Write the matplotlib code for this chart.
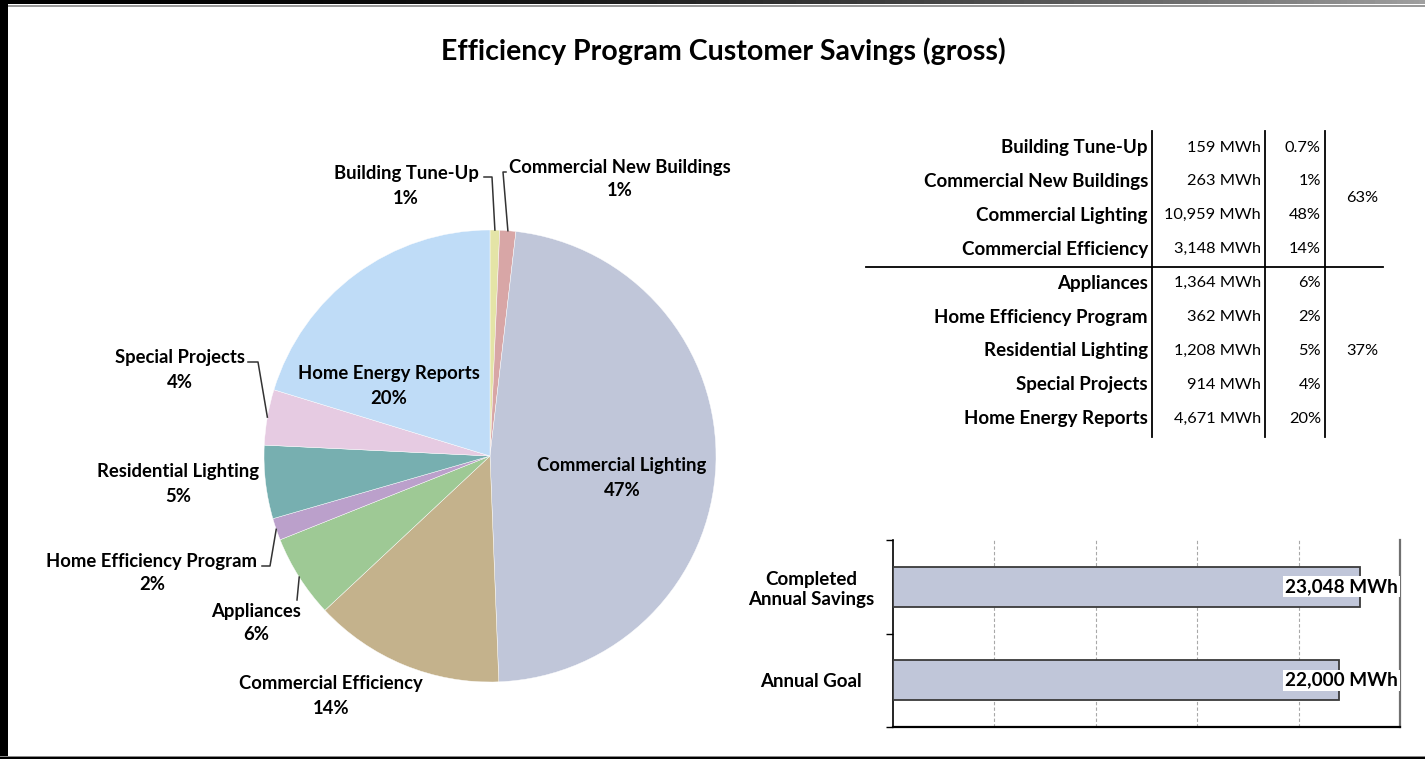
import numpy as np
import matplotlib.pyplot as plt

plt.rcParams['font.family'] = ['Lato', 'DejaVu Sans']

W, H = 1425, 759

# data
programs = ['Building Tune-Up', 'Commercial New Buildings', 'Commercial Lighting',
            'Commercial Efficiency', 'Appliances', 'Home Efficiency Program',
            'Residential Lighting', 'Special Projects', 'Home Energy Reports']
savings_mwh = [159, 263, 10959, 3148, 1364, 362, 1208, 914, 4671]
pie_pct = ['1%', '1%', '47%', '14%', '6%', '2%', '5%', '4%', '20%']
table_pct = ['0.7%', '1%', '48%', '14%', '6%', '2%', '5%', '4%', '20%']
group_pct = ['63%', '37%']
group_rows = [4, 5]
colors = ['#e4e4a6', '#d8a6a6', '#c0c6d9', '#c4b28c', '#9ec995',
          '#bba0cb', '#77afb0', '#e6cbe2', '#bfdcf7']

bar_cats = ['Annual Goal', 'Completed\nAnnual Savings']
bar_vals = [22000, 23048]

fig = plt.figure(figsize=(W / 100, H / 100), dpi=100)
fig.patch.set_facecolor('white')

# overlay in pixel coordinates (frame, title, table)
ov = fig.add_axes([0, 0, 1, 1])
ov.axis('off')
ov.patch.set_alpha(0)

grad = np.linspace(0, 1, 256)[None, :] ** 2
ov.imshow(grad, cmap='gray', vmin=0, vmax=1.6, extent=(0, W, 4.5, 0), aspect='auto')
ov.add_patch(plt.Rectangle((0, 4.5), W, 2.5, color='#9a9a9a', lw=0))
ov.add_patch(plt.Rectangle((0, 0), 8, H, color='black', lw=0))
ov.add_patch(plt.Rectangle((0, 755.5), W, 1.5, color='#8a8a8a', lw=0))
ov.add_patch(plt.Rectangle((0, 757), W, 2, color='black', lw=0))
ov.set_xlim(0, W)
ov.set_ylim(H, 0)

ov.text(723, 51, 'Efficiency Program Customer Savings (gross)', ha='center', va='center',
        fontsize=20.5, fontweight='bold')

# table
row_y0, row_h = 147.5, 33.9
for i, (name, v, p) in enumerate(zip(programs, savings_mwh, table_pct)):
    y = row_y0 + i * row_h
    ov.text(1148, y, name, ha='right', va='center', fontsize=13.5, fontweight='bold')
    ov.text(1261, y, f'{v:,} MWh', ha='right', va='center', fontsize=11.8)
    ov.text(1321, y, p, ha='right', va='center', fontsize=11.8)
for xv in (1152, 1265, 1325):
    ov.plot([xv, xv], [131, 437], color='black', lw=1.3)
ov.plot([866, 1383], [267, 267], color='black', lw=1.3)
start = 0
for g, n in zip(group_pct, group_rows):
    yc = row_y0 + (start + (n - 1) / 2) * row_h
    ov.text(1362, yc, g, ha='center', va='center', fontsize=11.8)
    start += n

# pie
cx, cy, R = 490, 456, 226
pa = fig.add_axes([(cx - R) / W, 1 - (cy + R) / H, 2 * R / W, 2 * R / H])
wedges, _ = pa.pie(savings_mwh, colors=colors, startangle=90, counterclock=False,
                   radius=1, wedgeprops=dict(lw=0.3, edgecolor='white'))
pa.set_xlim(-1, 1)
pa.set_ylim(-1, 1)
pa.set_aspect('equal')


def d(px, py):
    return ((px - cx) / R, (cy - py) / R)


label_pos = {
    'Building Tune-Up': d(406, 186),
    'Commercial New Buildings': d(620, 179),
    'Commercial Lighting': d(622, 478),
    'Commercial Efficiency': d(331, 696),
    'Appliances': d(256, 623),
    'Home Efficiency Program': d(152, 573),
    'Residential Lighting': d(178, 484),
    'Special Projects': d(180, 370),
    'Home Energy Reports': d(389, 386),
}
leaders = {
    'Building Tune-Up': [d(492, 177), d(484, 177)],
    'Commercial New Buildings': [d(503, 172), d(506, 172)],
    'Appliances': [d(297, 600)],
    'Home Efficiency Program': [d(270, 566), d(262, 566)],
    'Special Projects': [d(258, 362), d(248, 362)],
}

for w, name, pct in zip(wedges, programs, pie_pct):
    x, y = label_pos[name]
    pa.text(x, y, f'{name}\n{pct}', ha='center', va='center', fontsize=13.3,
            fontweight='bold', linespacing=1.5, clip_on=False)
    if name in leaders:
        ang = np.deg2rad((w.theta1 + w.theta2) / 2)
        pts = [(np.cos(ang), np.sin(ang))] + leaders[name]
        xs, ys = zip(*pts)
        pa.plot(xs, ys, color='#333333', lw=1.1, clip_on=False)

# bar chart
bx0, bx1, by0, by1 = 893, 1400, 540, 727
ba = fig.add_axes([bx0 / W, 1 - by1 / H, (bx1 - bx0) / W, (by1 - by0) / H])
ypos = np.arange(len(bar_cats))
ba.barh(ypos, bar_vals, height=0.43, color='#c0c6d9', edgecolor='#3a3a3a', lw=1.3, zorder=3)
ba.set_xlim(0, 25000)
ba.set_ylim(-0.5, 1.5)
ba.set_xticks([5000, 10000, 15000, 20000])
ba.set_xticklabels([])
ba.tick_params(axis='x', length=0)
ba.xaxis.grid(True, ls=(0, (3, 2)), color='#a8a8a8', lw=0.8)
ba.set_axisbelow(True)
ba.set_yticks(ypos, bar_cats, fontsize=13.5, fontweight='bold', multialignment='center')
ba.set_yticks([-0.5, 0.5, 1.5], minor=True)
ba.tick_params(axis='y', which='major', length=0, pad=0)
ba.tick_params(axis='y', which='minor', length=5, width=1, direction='out')
for lab in ba.get_yticklabels():
    lab.set_horizontalalignment('center')
    lab.set_x(-0.162)
ba.spines['top'].set_visible(False)
ba.spines['left'].set_linewidth(1.2)
ba.spines['bottom'].set_linewidth(1.6)
ba.spines['right'].set_color('#707070')
ba.spines['right'].set_linewidth(1.6)
for yv, v in zip(ypos, bar_vals):
    ba.text(24900, yv, f'{v:,} MWh', ha='right', va='center', fontsize=13.7,
            fontweight='bold', zorder=5,
            bbox=dict(facecolor='white', edgecolor='none', pad=1.5))

fig.savefig('out.png', dpi=100)
